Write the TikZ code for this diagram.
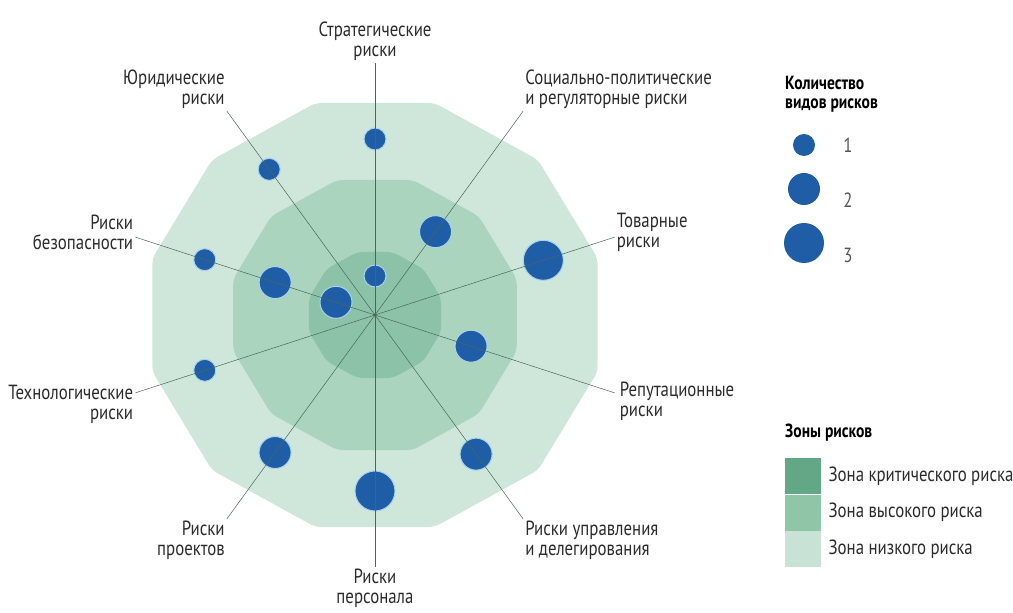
\documentclass[tikz,border=0pt]{standalone}
\usepackage{fontspec}
\setmainfont{PT Sans}[FakeStretch=0.82]
\usetikzlibrary{positioning}

\definecolor{zonelow}{HTML}{CFE7DA}
\definecolor{zonehigh}{HTML}{ABD4BF}
\definecolor{zonecrit}{HTML}{8CC3A8}
\definecolor{legcrit}{HTML}{62A886}
\definecolor{leghigh}{HTML}{8FC6A8}
\definecolor{leglow}{HTML}{C8E3D5}
\definecolor{riskblue}{HTML}{1F5EA6}
\definecolor{halo}{HTML}{A8D2EE}
\definecolor{spokegreen}{HTML}{4A6659}
\definecolor{textgray}{HTML}{2B2B2B}

\begin{document}
\begin{tikzpicture}[x=1pt, y=1pt,
    zone/.style={xscale=1.05, rounded corners=6pt},
    risk/.style={circle, fill=riskblue, draw=halo, line width=1pt, inner sep=0pt},
    risk1/.style={risk, minimum size=22pt},
    risk2/.style={risk, minimum size=32pt},
    risk3/.style={risk, minimum size=40pt},
    spoke/.style={draw=spokegreen, line width=0.5pt},
    riskname/.style={font=\fontsize{20.5}{20}\selectfont, text=textgray, inner sep=2pt},
    legtitle/.style={font=\fontsize{19}{19}\selectfont\bfseries, text=black, inner sep=0pt, align=left},
    swatch/.style={minimum width=36pt, minimum height=36pt, inner sep=0pt}
]
    \useasboundingbox (-375,-298) rectangle (638,315);

    \foreach \ap/\col in {212/zonelow, 135/zonehigh, 63/zonecrit}
        \fill[zone, \col] (15:{\ap/0.9659})
            \foreach \k in {1,...,11} { -- ({15+30*\k}:{\ap/0.9659}) } -- cycle;

    \coordinate (c) at (0,0);
    \foreach \a/\n in {90/strat, 54/soc, 18/tov, -18/rep, -54/upr,
                       -90/pers, -126/proj, -162/tech, 162/bez, 126/yur}
        \coordinate (\n) at (\a:252);

    \node[risk1] (d-strat-1) at (90:176) {};
    \node[risk1] (d-strat-3) at (90:39) {};
    \node[risk1] (d-yur-1) at (126:180) {};
    \node[risk2] (d-soc-2) at (54:103) {};
    \node[risk3] (d-tov-1) at (18:177) {};
    \node[risk2] (d-rep-2) at (-18:101) {};
    \node[risk2] (d-upr-1) at (-54:172) {};
    \node[risk3] (d-pers-1) at (-90:176) {};
    \node[risk2] (d-proj-1) at (-126:170) {};
    \node[risk1] (d-tech-1) at (-162:179) {};
    \node[risk1] (d-bez-1) at (162:179) {};
    \node[risk2] (d-bez-2) at (162:105) {};
    \node[risk2] (d-bez-3) at (162:41) {};

    \foreach \n in {strat, soc, tov, rep, upr, pers, proj, tech, bez, yur}
        \draw[spoke] (c) -- (\n);
    \fill[spokegreen] (c) circle (1.5pt);

    \node[riskname, anchor=south, align=center] at (strat) {Стратегические\\риски};
    \node[riskname, anchor=south west, align=left] at (soc) {Социально-политические\\и регуляторные риски};
    \node[riskname, anchor=west, align=left, yshift=5pt] at (tov) {Товарные\\риски};
    \node[riskname, anchor=west, align=left, xshift=3pt, yshift=-8pt] at (rep) {Репутационные\\риски};
    \node[riskname, anchor=north west, align=left] at (upr) {Риски управления\\и делегирования};
    \node[riskname, anchor=north, align=center] at (pers) {Риски\\персонала};
    \node[riskname, anchor=north east, align=right] at (proj) {Риски\\проектов};
    \node[riskname, anchor=east, align=right, yshift=-12pt] at (tech) {Технологические\\риски};
    \node[riskname, anchor=east, align=right, yshift=5pt] at (bez) {Риски\\безопасности};
    \node[riskname, anchor=south east, align=right] at (yur) {Юридические\\риски};

    \node[legtitle, anchor=north west] (legcount) at (410,239) {Количество\\видов рисков};
    \node[risk1, draw=none] (leg-1) at (429,170) {};
    \node[risk2, draw=none] (leg-2) at (429,126) {};
    \node[risk3, draw=none] (leg-3) at (429,72) {};
    \node[riskname, text=textgray!80] at (473,170) {1};
    \node[riskname, text=textgray!80] at (473,115) {2};
    \node[riskname, text=textgray!80] at (473,60) {3};

    \node[legtitle, anchor=west] (legzone) at (410,-118) {Зоны рисков};
    \node[swatch, fill=legcrit, anchor=north west] (sw-crit) at (410,-143) {};
    \node[swatch, fill=leghigh, below=0pt of sw-crit] (sw-high) {};
    \node[swatch, fill=leglow, below=0pt of sw-high] (sw-low) {};
    \node[riskname, right=5pt of sw-crit] {Зона критического риска};
    \node[riskname, right=5pt of sw-high] {Зона высокого риска};
    \node[riskname, right=5pt of sw-low] {Зона низкого риска};
\end{tikzpicture}
\end{document}
